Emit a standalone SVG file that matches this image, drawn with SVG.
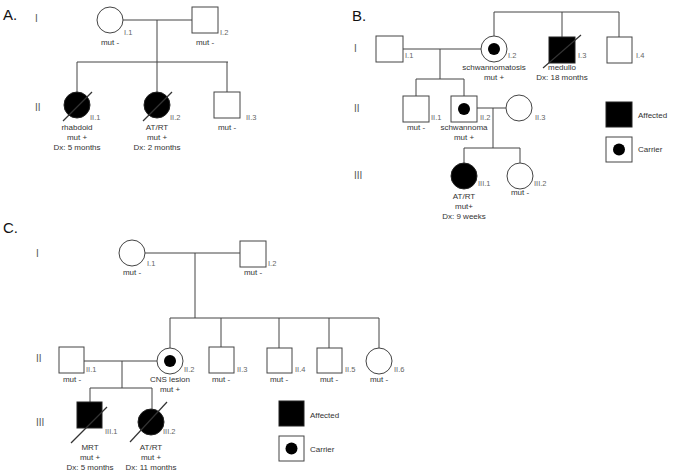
<svg xmlns="http://www.w3.org/2000/svg" width="674" height="474" viewBox="0 0 674 474">
<style>
.bg{fill:#fff}
.sh{fill:#fff;stroke:#444;stroke-width:1}
.af{fill:#000;stroke:#222;stroke-width:1}
.dot{fill:#000}
.ln{fill:none;stroke:#444;stroke-width:1}
.sl{stroke:#333;stroke-width:1.2}
.pl{font-family:"Liberation Sans",Arial,sans-serif;font-size:15px;fill:#111}
.gen{font-family:"Liberation Sans",Arial,sans-serif;font-size:10px;fill:#555}
.an{font-family:"Liberation Sans",Arial,sans-serif;font-size:8px;fill:#333;text-anchor:middle}
.id{font-family:"Liberation Sans",Arial,sans-serif;font-size:7.5px;fill:#666}
.lg{font-family:"Liberation Sans",Arial,sans-serif;font-size:8px;fill:#333}
</style>
<rect class="bg" x="0" y="0" width="674" height="474"/>

<!-- Panel A -->
<text class="pl" x="3" y="20">A.</text>
<text class="gen" x="35" y="22">I</text>
<text class="gen" x="35" y="111">II</text>
<g id="A-connectors">
<line class="ln" x1="123" y1="20" x2="192" y2="20"/>
<line class="ln" x1="157" y1="20" x2="157" y2="62"/>
<line class="ln" x1="77" y1="62" x2="228" y2="62"/>
<line class="ln" x1="77" y1="62" x2="77" y2="92"/>
<line class="ln" x1="157" y1="62" x2="157" y2="92"/>
<line class="ln" x1="227" y1="62" x2="227" y2="92"/>
</g>
<g id="A-I1"><circle class="sh" cx="110" cy="20" r="13"/><text class="id" x="124" y="35">I.1</text><text class="an" x="110" y="45">mut -</text></g>
<g id="A-I2"><rect class="sh" x="192" y="7" width="26" height="26"/><text class="id" x="220" y="35">I.2</text><text class="an" x="205" y="45">mut -</text></g>
<g id="A-II1"><circle class="af" cx="77" cy="105" r="13"/><line class="sl" x1="63" y1="121" x2="92" y2="92"/><text class="id" x="90" y="120">II.1</text><text class="an" x="77" y="130">rhabdoid</text><text class="an" x="77" y="140">mut +</text><text class="an" x="77" y="150">Dx: 5 months</text></g>
<g id="A-II2"><circle class="af" cx="157" cy="105" r="13"/><line class="sl" x1="143" y1="121" x2="172" y2="92"/><text class="id" x="170" y="120">II.2</text><text class="an" x="157" y="130">AT/RT</text><text class="an" x="157" y="140">mut +</text><text class="an" x="157" y="150">Dx: 2 months</text></g>
<g id="A-II3"><rect class="sh" x="214" y="92" width="26" height="26"/><text class="id" x="246" y="120">II.3</text><text class="an" x="227" y="130">mut -</text></g>

<!-- Panel B -->
<text class="pl" x="352" y="21">B.</text>
<text class="gen" x="354" y="52">I</text>
<text class="gen" x="354" y="112">II</text>
<text class="gen" x="354" y="179">III</text>
<g id="B-connectors">
<line class="ln" x1="494" y1="12" x2="619" y2="12"/>
<line class="ln" x1="494" y1="12" x2="494" y2="36"/>
<line class="ln" x1="562" y1="12" x2="562" y2="37"/>
<line class="ln" x1="619" y1="12" x2="619" y2="37"/>
<line class="ln" x1="403" y1="49" x2="481" y2="49"/>
<line class="ln" x1="440" y1="49" x2="440" y2="79"/>
<line class="ln" x1="416" y1="79" x2="464" y2="79"/>
<line class="ln" x1="416" y1="79" x2="416" y2="96"/>
<line class="ln" x1="464" y1="79" x2="464" y2="96"/>
<line class="ln" x1="477" y1="108" x2="506" y2="108"/>
<line class="ln" x1="493" y1="108" x2="493" y2="148"/>
<line class="ln" x1="464" y1="148" x2="520" y2="148"/>
<line class="ln" x1="464" y1="148" x2="464" y2="163"/>
<line class="ln" x1="520" y1="148" x2="520" y2="163"/>
</g>
<g id="B-I1"><rect class="sh" x="376" y="36" width="27" height="26"/><text class="id" x="405" y="58">I.1</text></g>
<g id="B-I2"><circle class="sh" cx="494" cy="49" r="13"/><circle class="dot" cx="494" cy="49" r="6"/><text class="id" x="508" y="58">I.2</text><text class="an" x="494" y="70">schwannomatosis</text><text class="an" x="494" y="80">mut +</text></g>
<g id="B-I3"><rect class="af" x="549" y="37" width="26" height="26"/><line class="sl" x1="543" y1="68" x2="581" y2="35"/><text class="id" x="578" y="58">I.3</text><text class="an" x="562" y="70">medullo</text><text class="an" x="562" y="80">Dx: 18 months</text></g>
<g id="B-I4"><rect class="sh" x="607" y="37" width="25" height="26"/><text class="id" x="636" y="58">I.4</text></g>
<g id="B-II1"><rect class="sh" x="403" y="96" width="26" height="26"/><text class="id" x="431" y="120">II.1</text><text class="an" x="416" y="130">mut -</text></g>
<g id="B-II2"><rect class="sh" x="451" y="96" width="26" height="26"/><circle class="dot" cx="464" cy="109" r="6"/><text class="id" x="480" y="120">II.2</text><text class="an" x="464" y="130">schwannoma</text><text class="an" x="464" y="140">mut +</text></g>
<g id="B-II3"><circle class="sh" cx="519" cy="108" r="13"/><text class="id" x="535" y="120">II.3</text></g>
<g id="B-III1"><circle class="af" cx="464" cy="176" r="13"/><text class="id" x="478" y="186">III.1</text><text class="an" x="464" y="199">AT/RT</text><text class="an" x="464" y="209">mut+</text><text class="an" x="464" y="219">Dx: 9 weeks</text></g>
<g id="B-III2"><circle class="sh" cx="520" cy="176" r="13"/><text class="id" x="534" y="186">III.2</text><text class="an" x="520" y="195">mut -</text></g>
<g id="B-legend">
<rect class="af" x="606" y="102" width="26" height="25"/><text class="lg" x="638" y="118">Affected</text>
<rect class="sh" x="606" y="137" width="26" height="25"/><circle class="dot" cx="619" cy="149.5" r="6"/><text class="lg" x="638" y="152">Carrier</text>
</g>

<!-- Panel C -->
<text class="pl" x="3" y="233">C.</text>
<text class="gen" x="36" y="257">I</text>
<text class="gen" x="36" y="362">II</text>
<text class="gen" x="36" y="426">III</text>
<g id="C-connectors">
<line class="ln" x1="145" y1="253" x2="240" y2="253"/>
<line class="ln" x1="195" y1="253" x2="195" y2="318"/>
<line class="ln" x1="170" y1="318" x2="379" y2="318"/>
<line class="ln" x1="170" y1="318" x2="170" y2="348"/>
<line class="ln" x1="221" y1="318" x2="221" y2="347"/>
<line class="ln" x1="279" y1="318" x2="279" y2="348"/>
<line class="ln" x1="329" y1="318" x2="329" y2="348"/>
<line class="ln" x1="379" y1="318" x2="379" y2="348"/>
<line class="ln" x1="84" y1="361" x2="157" y2="361"/>
<line class="ln" x1="122" y1="361" x2="122" y2="388"/>
<line class="ln" x1="90" y1="388" x2="152" y2="388"/>
<line class="ln" x1="90" y1="388" x2="90" y2="402"/>
<line class="ln" x1="152" y1="388" x2="152" y2="409"/>
</g>
<g id="C-I1"><circle class="sh" cx="132" cy="253" r="13"/><text class="id" x="147" y="266">I.1</text><text class="an" x="132" y="275">mut -</text></g>
<g id="C-I2"><rect class="sh" x="240" y="241" width="26" height="26"/><text class="id" x="268" y="266">I.2</text><text class="an" x="253" y="275">mut -</text></g>
<g id="C-II1"><rect class="sh" x="59" y="347" width="25" height="26"/><text class="id" x="86" y="372">II.1</text><text class="an" x="72" y="382">mut -</text></g>
<g id="C-II2"><circle class="sh" cx="170" cy="361" r="13"/><circle class="dot" cx="170" cy="361" r="6"/><text class="id" x="184" y="372">II.2</text><text class="an" x="170" y="382">CNS lesion</text><text class="an" x="170" y="392">mut +</text></g>
<g id="C-II3"><rect class="sh" x="209" y="347" width="25" height="26"/><text class="id" x="237" y="372">II.3</text><text class="an" x="221" y="382">mut -</text></g>
<g id="C-II4"><rect class="sh" x="267" y="348" width="25" height="25"/><text class="id" x="295" y="372">II.4</text><text class="an" x="279" y="382">mut -</text></g>
<g id="C-II5"><rect class="sh" x="317" y="348" width="25" height="25"/><text class="id" x="345" y="372">II.5</text><text class="an" x="329" y="382">mut -</text></g>
<g id="C-II6"><circle class="sh" cx="379" cy="361" r="13"/><text class="id" x="394" y="372">II.6</text><text class="an" x="379" y="382">mut -</text></g>
<g id="C-III1"><rect class="af" x="77" y="402" width="25" height="26"/><line class="sl" x1="71" y1="443" x2="107" y2="407"/><text class="id" x="105" y="434">III.1</text><text class="an" x="90" y="450">MRT</text><text class="an" x="90" y="460">mut +</text><text class="an" x="90" y="470">Dx: 5 months</text></g>
<g id="C-III2"><circle class="af" cx="151" cy="422" r="13"/><line class="sl" x1="130" y1="442" x2="167" y2="402"/><text class="id" x="163" y="434">III.2</text><text class="an" x="151" y="450">AT/RT</text><text class="an" x="151" y="460">mut +</text><text class="an" x="151" y="470">Dx: 11 months</text></g>
<g id="C-legend">
<rect class="af" x="279" y="401" width="25" height="25"/><text class="lg" x="310" y="418">Affected</text>
<rect class="sh" x="279" y="436" width="25" height="25"/><circle class="dot" cx="291.5" cy="448.5" r="6"/><text class="lg" x="310" y="452">Carrier</text>
</g>
</svg>
